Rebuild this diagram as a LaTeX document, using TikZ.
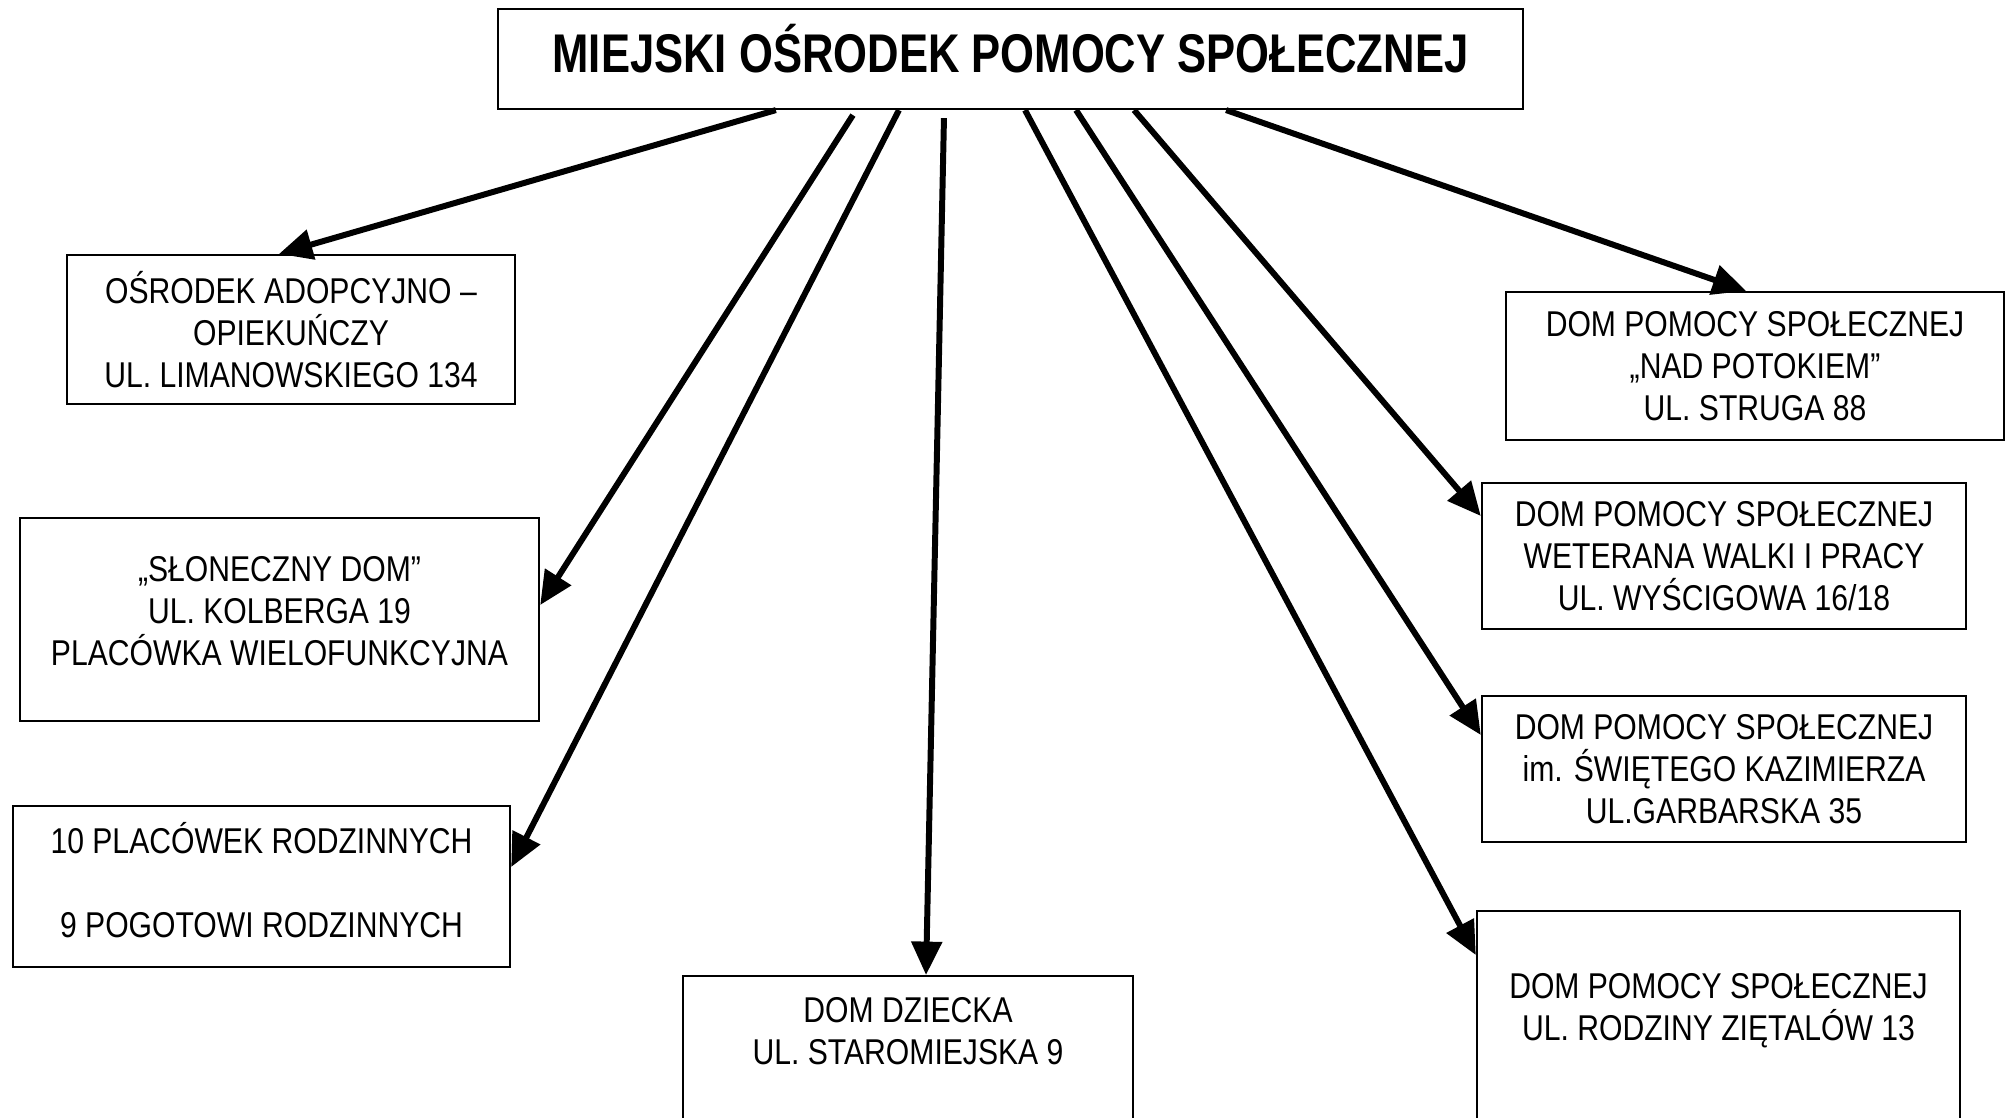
\documentclass[tikz,border=0pt]{standalone}
\usepackage{fontspec}
\setmainfont[FakeStretch=0.84]{Liberation Sans}
\newfontfamily\titlefont[FakeStretch=0.8]{Liberation Sans}
\usetikzlibrary{positioning}
\usetikzlibrary{arrows.meta}

\tikzset{
  unit/.style={rectangle, draw, line width=0.6pt, align=center, inner sep=0pt,
    font=\fontsize{10.2}{11.9}\selectfont},
  link/.style={line width=1.7pt, -{Triangle[length=9.5pt,width=8.5pt]}},
}

\begin{document}
\begin{tikzpicture}[x=0.01cm,y=-0.01cm]
  \useasboundingbox (0,0) rectangle (2009,1117);
  \clip (0,0) rectangle (2009,1117);

  \node(mops)[unit, minimum width=10.25cm, minimum height=1cm, text depth=6.2pt,
    font=\titlefont\bfseries\fontsize{15.5}{18}\selectfont] at (1010.5,59)
    {MIEJSKI OŚRODEK POMOCY SPOŁECZNEJ};

  \node(adopcja)[unit, minimum width=4.48cm, minimum height=1.49cm] at (291,329.5)
    {OŚRODEK ADOPCYJNO –\\OPIEKUŃCZY\\UL. LIMANOWSKIEGO 134};
  \node(slonecznydom)[unit, minimum width=5.19cm, minimum height=2.03cm, text depth=5pt] at (279.5,619.5)
    {„SŁONECZNY DOM”\\UL. KOLBERGA 19\\PLACÓWKA WIELOFUNKCYJNA};
  \node(placowki)[unit, minimum width=4.97cm, minimum height=1.61cm, text depth=3.6pt] at (261.5,886.5)
    {10 PLACÓWEK RODZINNYCH\\[11.9pt]9 POGOTOWI RODZINNYCH};
  \node(domdziecka)[unit, anchor=north, minimum width=4.5cm, inner ysep=6pt, text depth=3cm] at (908,975)
    {DOM DZIECKA\\UL. STAROMIEJSKA 9};

  \node(potok)[unit, minimum width=4.98cm, minimum height=1.48cm] at (1755,366)
    {DOM POMOCY SPOŁECZNEJ\\„NAD POTOKIEM”\\UL. STRUGA 88};
  \node(weterani)[unit, minimum width=4.84cm, minimum height=1.46cm] at (1724,556)
    {DOM POMOCY SPOŁECZNEJ\\WETERANA WALKI I PRACY\\UL. WYŚCIGOWA 16/18};
  \node(kazimierz)[unit, minimum width=4.84cm, minimum height=1.46cm] at (1724,769)
    {DOM POMOCY SPOŁECZNEJ\\im. ŚWIĘTEGO KAZIMIERZA\\UL.GARBARSKA 35};
  \node(zietalow)[unit, anchor=north, minimum width=4.83cm, inner ysep=0.62cm, text depth=3cm] at (1718.5,910)
    {DOM POMOCY SPOŁECZNEJ\\UL. RODZINY ZIĘTALÓW 13};

  \draw[link]([xshift=-2.345cm]mops.south) -- ([xshift=-0.12cm]adopcja.north);
  \draw[link]([xshift=-1.575cm,yshift=-0.05cm]mops.south) -- ([yshift=0.145cm]slonecznydom.east);
  \draw[link]([xshift=-1.115cm]mops.south) -- ([yshift=0.195cm]placowki.east);
  \draw[link]([xshift=-0.665cm,yshift=-0.08cm]mops.south) -- ([xshift=0.18cm]domdziecka.north);
  \draw[link]([xshift=0.145cm]mops.south) -- ([yshift=-0.45cm]zietalow.north west);
  \draw[link]([xshift=0.655cm]mops.south) -- ([yshift=0.34cm]kazimierz.west);
  \draw[link]([xshift=1.235cm]mops.south) -- ([yshift=0.40cm]weterani.west);
  \draw[link]([xshift=2.155cm]mops.south) -- ([xshift=-0.09cm]potok.north);

\end{tikzpicture}
\end{document}
